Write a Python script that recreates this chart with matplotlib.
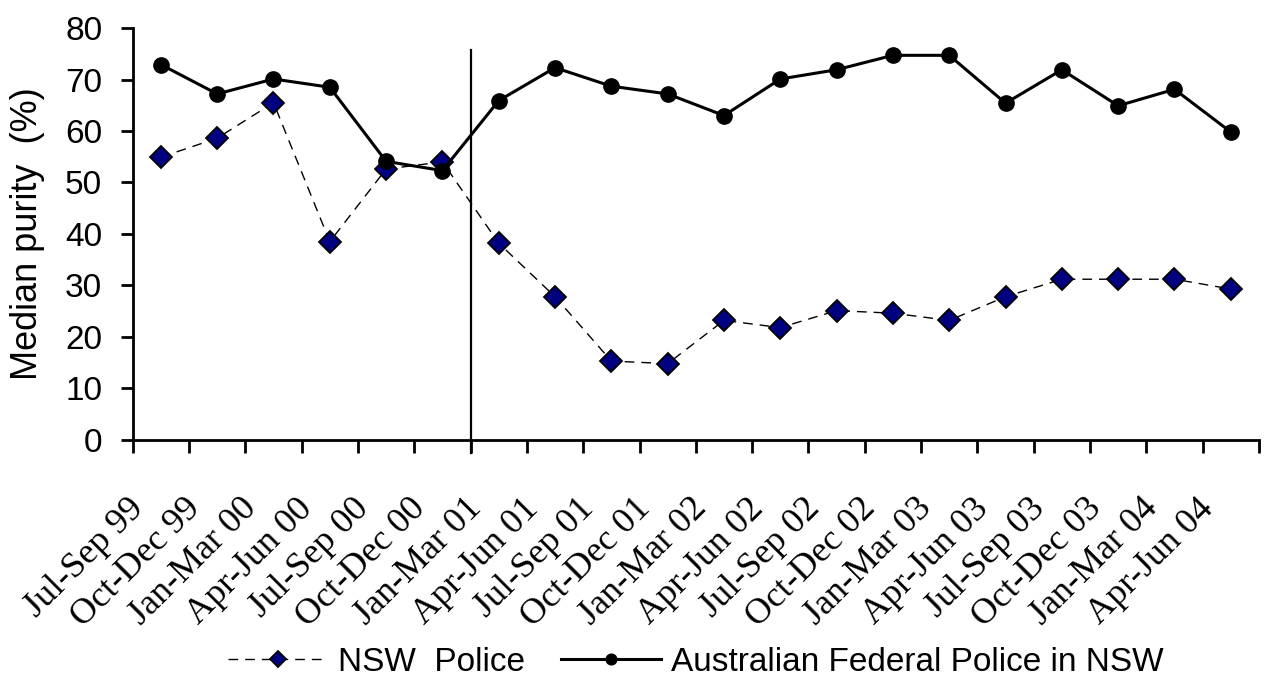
import numpy as np
import matplotlib
matplotlib.use('Agg')
import matplotlib.pyplot as plt
from matplotlib.transforms import ScaledTranslation

# quarters on the x axis
quarters = ['Jul-Sep 99', 'Oct-Dec 99', 'Jan-Mar 00', 'Apr-Jun 00', 'Jul-Sep 00',
            'Oct-Dec 00', 'Jan-Mar 01', 'Apr-Jun 01', 'Jul-Sep 01', 'Oct-Dec 01',
            'Jan-Mar 02', 'Apr-Jun 02', 'Jul-Sep 02', 'Oct-Dec 02', 'Jan-Mar 03',
            'Apr-Jun 03', 'Jul-Sep 03', 'Oct-Dec 03', 'Jan-Mar 04', 'Apr-Jun 04']

# median purity (%)
nsw_police = [54.9, 58.6, 65.5, 38.5, 52.6, 54.0, 38.2, 27.8, 15.3, 14.8,
              23.2, 21.8, 25.1, 24.6, 23.2, 27.8, 31.2, 31.2, 31.2, 29.3]
afp_nsw = [72.9, 67.2, 70.1, 68.5, 54.1, 52.3, 65.9, 72.3, 68.7, 67.2,
           63.0, 70.1, 71.9, 74.7, 74.7, 65.4, 71.9, 64.9, 68.1, 59.8]

# vertical marker between Oct-Dec 00 and Jan-Mar 01
break_pos = 5.5

fig = plt.figure(figsize=(12.64, 6.84), dpi=100)
ax = fig.add_axes([0.105, 0.357, 0.891, 0.602])

x = np.arange(len(quarters))
ax.plot(x, nsw_police, color='black', lw=1.0, dashes=(7, 5),
        marker='D', markersize=11, markerfacecolor='#000080',
        markeredgecolor='black', markeredgewidth=1.3, label='NSW  Police')
ax.plot(x, afp_nsw, color='black', lw=2.2, marker='o', markersize=11,
        markerfacecolor='black', markeredgecolor='black',
        label='Australian Federal Police in NSW')

ax.plot([break_pos, break_pos], [-2.5, 75.7], color='black', lw=1.6, clip_on=False)

ax.set_xlim(-0.5, len(quarters) - 0.5)
ax.set_ylim(0, 80)
ax.set_yticks(range(0, 81, 10))

for side in ['top', 'right']:
    ax.spines[side].set_visible(False)
for side in ['left', 'bottom']:
    ax.spines[side].set_linewidth(2)

ax.tick_params(axis='y', direction='out', length=9, width=2, pad=13, labelsize=24)
for lab in ax.get_yticklabels():
    lab.set_fontfamily('Liberation Sans')

ax.set_xticks(x)
ax.set_xticklabels(quarters, fontfamily='Liberation Serif', fontsize=26)
ax.set_xticks(np.arange(-0.5, len(quarters), 1.0), minor=True)
ax.tick_params(axis='x', which='major', length=0, pad=46)
ax.tick_params(axis='x', which='minor', direction='out', length=9, width=2)
shift = ScaledTranslation(-22 / 100, 0, fig.dpi_scale_trans)
for lab in ax.get_xticklabels():
    lab.set_rotation(45)
    lab.set_ha('right')
    lab.set_va('center')
    lab.set_rotation_mode('anchor')
    lab.set_transform(lab.get_transform() + shift)

ax.set_ylabel('Median purity  (%)', fontfamily='Liberation Sans', fontsize=26)
ax.yaxis.set_label_coords(-0.078, 0.5)

ax.legend(loc='center', bbox_to_anchor=(0.5, -0.54), ncol=2, frameon=False,
          prop={'family': 'Liberation Sans', 'size': 24}, handlelength=3.0,
          handletextpad=0.3, columnspacing=1.1, markerscale=0.7)

fig.savefig('out.png', dpi=100)
